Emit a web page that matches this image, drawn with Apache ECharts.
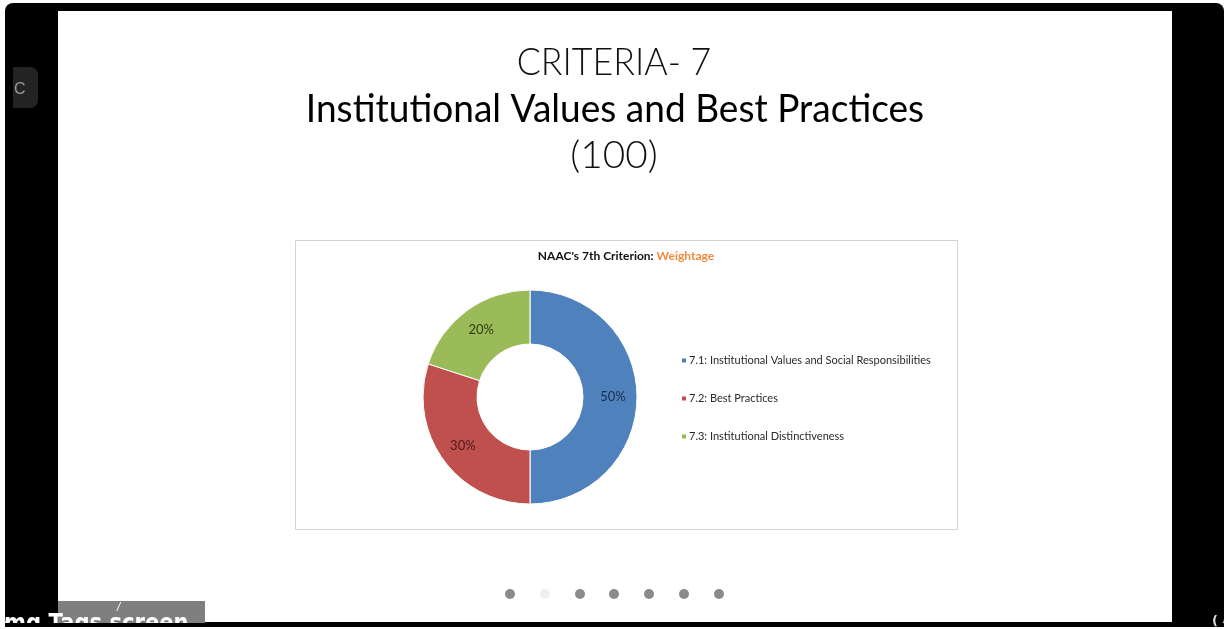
<!DOCTYPE html>
<html>
<head>
<meta charset="utf-8">
<script src="https://cdn.jsdelivr.net/npm/echarts@6/dist/echarts.min.js"></script>
<style>
html, body { margin: 0; padding: 0; background: #fff; }
#main { width: 1224px; height: 629px; }
</style>
</head>
<body>
<div id="main"></div>
<script>
// chart data
var categories = [
    '7.1: Institutional Values and Social Responsibilities',
    '7.2: Best Practices',
    '7.3: Institutional Distinctiveness'
];
var weights = [50, 30, 20];
var sliceColors = ['#4f81bd', '#c0504d', '#9bbb59'];
var labelColors = ['#1c2e4c', '#4a1c1b', '#2e3c12'];

var slideTitle = 'CRITERIA- 7';
var slideSubtitle = 'Institutional Values and Best Practices';
var slideMarks = '(100)';

var myChart = echarts.init(document.getElementById('main'));

var dotX = [510, 545, 580, 614, 649, 684, 719];
var dots = dotX.map(function (x, i) {
    return {
        type: 'circle',
        shape: { cx: x, cy: 594, r: 5 },
        style: { fill: i === 1 ? '#efefef' : '#8a8a8a' },
        z: 1
    };
});

var option = {
    backgroundColor: '#fff',
    animation: false,
    graphic: [
        // screen frame
        { type: 'rect', shape: { x: 5, y: 3, width: 1219, height: 624, r: 8 }, style: { fill: '#000' }, z: -10 },
        { type: 'rect', shape: { x: 58, y: 11, width: 1114, height: 611 }, style: { fill: '#fff' }, z: -9 },
        { type: 'rect', shape: { x: 13, y: 67, width: 25, height: 41, r: [0, 8, 8, 0] }, style: { fill: '#232323' }, z: -8 },
        { type: 'text', x: 14, y: 90, style: { text: 'C', fill: '#9a9a9a', font: '16px "Liberation Sans"', verticalAlign: 'middle' }, z: -7 },

        // slide headings
        { type: 'text', x: 614, y: 63, scaleX: 0.94, style: { text: slideTitle, fill: '#111', font: '300 38px Lato', align: 'center', verticalAlign: 'middle' }, z: 1 },
        { type: 'text', x: 615, y: 110, scaleX: 0.975, style: { text: slideSubtitle, fill: '#000', font: '38px Lato', align: 'center', verticalAlign: 'middle' }, z: 1 },
        { type: 'text', x: 614, y: 156, scaleX: 1.02, style: { text: slideMarks, fill: '#111', font: '300 38px Lato', align: 'center', verticalAlign: 'middle' }, z: 1 },

        // chart area box
        { type: 'rect', shape: { x: 295.5, y: 240.5, width: 662, height: 289 }, style: { fill: '#fff', stroke: '#d4d4d4', lineWidth: 1 }, z: -5 },
        {
            type: 'text', x: 626, y: 256, z: 1,
            style: {
                text: '{a|NAAC\'s 7th Criterion: }{b|Weightage}',
                align: 'center', verticalAlign: 'middle',
                rich: {
                    a: { font: 'bold 12px Lato', fill: '#111' },
                    b: { font: 'bold 12px Lato', fill: '#f28a3d' }
                }
            }
        }
    ].concat(dots).concat([
        // bottom-left caption overlay
        { type: 'rect', shape: { x: 58, y: 601, width: 147, height: 22 }, style: { fill: '#7f7f7f' }, z: 5 },
        { type: 'text', x: 117, y: 602, style: { text: '/', fill: '#fff', font: 'italic 10px "DejaVu Sans"' }, z: 6 },
        { type: 'text', x: 4, y: 625, scaleX: 0.88, style: { text: 'mg Tags screen', fill: '#fff', font: 'bold 24px "DejaVu Sans"', verticalAlign: 'middle' }, z: 6 },
        { type: 'rect', shape: { x: 0, y: 623, width: 1224, height: 6 }, style: { fill: '#000' }, z: 7 },
        { type: 'rect', shape: { x: 0, y: 627, width: 1224, height: 2 }, style: { fill: '#fff' }, z: 8 },
        { type: 'rect', shape: { x: 0, y: 620, width: 5, height: 9 }, style: { fill: '#fff' }, z: 8 },
        { type: 'text', x: 1212, y: 622, style: { text: '(', fill: '#ddd', font: 'bold 13px "DejaVu Sans"', verticalAlign: 'middle' }, z: 8 }
    ]),
    legend: {
        orient: 'vertical',
        left: 680,
        top: 355,
        padding: 0,
        itemGap: 27,
        itemWidth: 6,
        itemHeight: 6,
        icon: 'rect',
        textStyle: { fontFamily: 'Lato', fontSize: 11, color: '#2a2a2a', padding: [0, 0, 0, -3] },
        data: categories
    },
    series: [{
        type: 'pie',
        center: [530, 397],
        radius: [53, 107],
        startAngle: 90,
        clockwise: true,
        avoidLabelOverlap: false,
        itemStyle: { borderColor: '#fff', borderWidth: 1 },
        label: {
            show: true,
            position: 'inside',
            fontFamily: 'Lato',
            fontSize: 13,
            formatter: function (p) { return p.value + '%'; }
        },
        labelLine: { show: false },
        emphasis: { disabled: true },
        data: categories.map(function (name, i) {
            return {
                name: name,
                value: weights[i],
                itemStyle: { color: sliceColors[i] },
                label: { color: labelColors[i] }
            };
        })
    }]
};

myChart.setOption(option);
</script>
</body>
</html>
